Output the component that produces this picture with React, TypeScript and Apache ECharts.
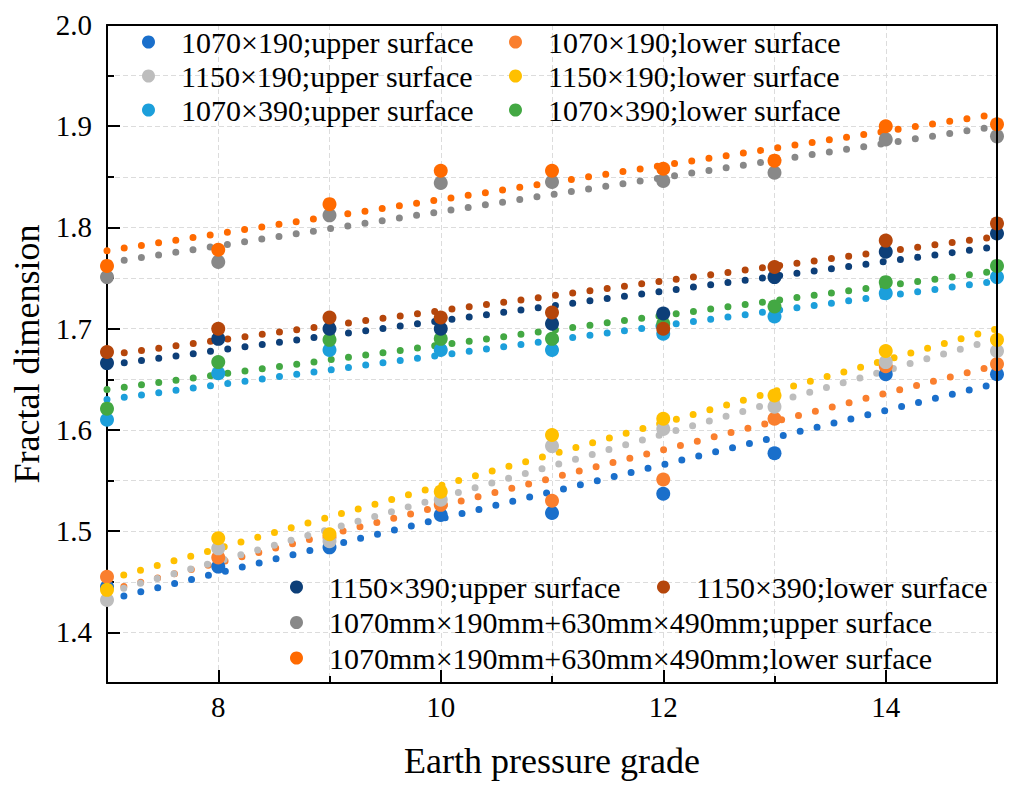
import React, { useEffect, useRef } from "react";
import * as echarts from "echarts";

// ---- data ----
const grades = [7, 8, 9, 10, 11, 12, 13, 14, 15];
const fitX = [7, 15];

const xMajorTicks = [8, 10, 12, 14];
const xMinorTicks = [9, 11, 13];
const yMajorTicks = [1.4, 1.5, 1.6, 1.7, 1.8, 1.9, 2.0];
const yMinorTicks = [1.35, 1.45, 1.55, 1.65, 1.75, 1.85, 1.95];

const names = [
  "1070×190;upper surface",
  "1070×190;lower surface",
  "1150×190;upper surface",
  "1150×190;lower surface",
  "1070×390;upper surface",
  "1070×390;lower surface",
  "1150×390;upper surface",
  "1150×390;lower surface",
  "1070mm×190mm+630mm×490mm;upper surface",
  "1070mm×190mm+630mm×490mm;lower surface",
];

const colors = [
  "#1A6FCB",
  "#FA7F2E",
  "#BDBDBD",
  "#FFC000",
  "#1C9FDB",
  "#43A843",
  "#0D3F78",
  "#B5460B",
  "#888888",
  "#FF6A00",
];

const upper1070x190 = [1.445, 1.465, 1.484, 1.516, 1.518, 1.537, 1.577, 1.655, 1.655];
const lower1070x190 = [1.455, 1.474, 1.494, 1.526, 1.53, 1.551, 1.611, 1.663, 1.665];
const upper1150x190 = [1.432, 1.483, 1.49, 1.531, 1.584, 1.601, 1.623, 1.667, 1.678];
const lower1150x190 = [1.442, 1.493, 1.497, 1.539, 1.595, 1.611, 1.634, 1.678, 1.689];
const upper1070x390 = [1.61, 1.656, 1.679, 1.679, 1.679, 1.695, 1.712, 1.735, 1.751];
const lower1070x390 = [1.621, 1.667, 1.689, 1.69, 1.69, 1.705, 1.722, 1.746, 1.762];
const upper1150x390 = [1.666, 1.69, 1.7, 1.7, 1.705, 1.715, 1.751, 1.776, 1.794];
const lower1150x390 = [1.677, 1.7, 1.711, 1.711, 1.716, 1.7, 1.761, 1.787, 1.804];
const upperCombined = [1.751, 1.766, 1.812, 1.844, 1.845, 1.846, 1.854, 1.887, 1.89];
const lowerCombined = [1.762, 1.778, 1.823, 1.856, 1.856, 1.858, 1.866, 1.9, 1.902];

// fitted lines: value at x = 7 and x = 15
const fitUpper1070x190 = [1.432, 1.646];
const fitLower1070x190 = [1.441, 1.664];
const fitUpper1150x190 = [1.439, 1.69];
const fitLower1150x190 = [1.452, 1.7];
const fitUpper1070x390 = [1.63, 1.747];
const fitLower1070x390 = [1.64, 1.757];
const fitUpper1150x390 = [1.664, 1.781];
const fitLower1150x390 = [1.674, 1.791];
const fitUpperCombined = [1.765, 1.9];
const fitLowerCombined = [1.777, 1.912];

const valueSets = [
  upper1070x190,
  lower1070x190,
  upper1150x190,
  lower1150x190,
  upper1070x390,
  lower1070x390,
  upper1150x390,
  lower1150x390,
  upperCombined,
  lowerCombined,
];
const fitSets = [
  fitUpper1070x190,
  fitLower1070x190,
  fitUpper1150x190,
  fitLower1150x190,
  fitUpper1070x390,
  fitLower1070x390,
  fitUpper1150x390,
  fitLower1150x390,
  fitUpperCombined,
  fitLowerCombined,
];

const FONT = "'Liberation Serif', 'Times New Roman', serif";

export default function App() {
  const ref = useRef<HTMLDivElement>(null);

  useEffect(() => {
    document.body.style.margin = "0";
    if (!ref.current) return;
    const chart = echarts.init(ref.current, null, { renderer: "svg" });

    const black = "#000";
    const gridLine = { show: true, lineStyle: { color: "#dcdcdc", width: 1, type: [5, 3] } };
    const tickLine = { color: black, width: 2 };

    const fitSeries = names.map((n, i) => ({
      type: "line",
      name: n + " (fit)",
      data: fitX.map((x, k) => [x, fitSets[i][k]]),
      symbol: "none",
      showSymbol: false,
      clip: false,
      silent: true,
      z: 2,
      lineStyle: { color: colors[i], width: 7, type: [0, 17.4], cap: "round" },
      itemStyle: { color: colors[i] },
    }));

    const pointSeries = names.map((n, i) => ({
      type: "scatter",
      name: n,
      data: grades.map((x, k) => [x, valueSets[i][k]]),
      symbol: "circle",
      symbolSize: 14,
      clip: false,
      z: 3,
      itemStyle: { color: colors[i], opacity: 1 },
    }));

    const legendBase = {
      orient: "vertical",
      icon: "circle",
      itemWidth: 55,
      itemHeight: 13,
      padding: 5,
      selectedMode: false,
      textStyle: { fontSize: 30, fontFamily: FONT, color: black, lineHeight: 30 },
    };

    const option = {
      animation: false,
      backgroundColor: "#fff",
      grid: { left: 107, right: 21, top: 25, bottom: 110, containLabel: false },
      legend: [
        { ...legendBase, data: [names[0], names[2], names[4]], left: 137, top: 22, itemGap: 4 },
        { ...legendBase, data: [names[1], names[3], names[5]], left: 504, top: 22, itemGap: 4 },
        { ...legendBase, data: [names[6], names[8], names[9]], left: 285, top: 567, itemGap: 5.5 },
        { ...legendBase, data: [names[7]], left: 652, top: 567, itemGap: 5.5 },
      ],
      xAxis: [
        {
          type: "value",
          min: 7,
          max: 15,
          interval: 1,
          position: "bottom",
          axisLine: { show: true, onZero: false, lineStyle: { color: black, width: 2 } },
          axisTick: { show: true, inside: true, length: 13, lineStyle: tickLine, customValues: xMajorTicks },
          axisLabel: {
            show: true,
            customValues: xMajorTicks,
            margin: 9,
            color: black,
            fontSize: 29,
            fontFamily: FONT,
            formatter: (v: number) => String(v),
          },
          splitLine: gridLine,
          name: "Earth pressure grade",
          nameLocation: "middle",
          nameGap: 60,
          nameTextStyle: { fontSize: 36, fontFamily: FONT, color: black },
        },
        {
          type: "value",
          min: 7,
          max: 15,
          interval: 1,
          position: "bottom",
          axisLine: { show: false, onZero: false },
          axisTick: { show: true, inside: true, length: 7, lineStyle: tickLine, customValues: xMinorTicks },
          axisLabel: { show: false },
          splitLine: gridLine,
        },
        {
          type: "value",
          min: 7,
          max: 15,
          position: "top",
          z: 10,
          axisLine: { show: true, onZero: false, lineStyle: { color: black, width: 2 } },
          axisTick: { show: false },
          axisLabel: { show: false },
          splitLine: { show: false },
        },
      ],
      yAxis: [
        {
          type: "value",
          min: 1.35,
          max: 2.0,
          interval: 0.05,
          position: "left",
          axisLine: { show: true, onZero: false, lineStyle: { color: black, width: 2 } },
          axisTick: { show: true, inside: true, length: 13, lineStyle: tickLine, customValues: yMajorTicks },
          axisLabel: {
            show: true,
            customValues: yMajorTicks,
            margin: 15,
            color: black,
            fontSize: 29,
            fontFamily: FONT,
            formatter: (v: number) => v.toFixed(1),
          },
          splitLine: gridLine,
          name: "Fractal dimension",
          nameLocation: "middle",
          nameGap: 60,
          nameTextStyle: { fontSize: 36, fontFamily: FONT, color: black },
        },
        {
          type: "value",
          min: 1.35,
          max: 2.0,
          interval: 0.05,
          position: "left",
          axisLine: { show: false, onZero: false },
          axisTick: { show: true, inside: true, length: 7, lineStyle: tickLine, customValues: yMinorTicks },
          axisLabel: { show: false },
          splitLine: gridLine,
        },
        {
          type: "value",
          min: 1.35,
          max: 2.0,
          position: "right",
          z: 10,
          axisLine: { show: true, onZero: false, lineStyle: { color: black, width: 2 } },
          axisTick: { show: false },
          axisLabel: { show: false },
          splitLine: { show: false },
        },
      ],
      series: [...fitSeries, ...pointSeries],
    };

    chart.setOption(option as any);
    return () => chart.dispose();
  }, []);

  return <div ref={ref} style={{ width: 1018, height: 793 }} />;
}
